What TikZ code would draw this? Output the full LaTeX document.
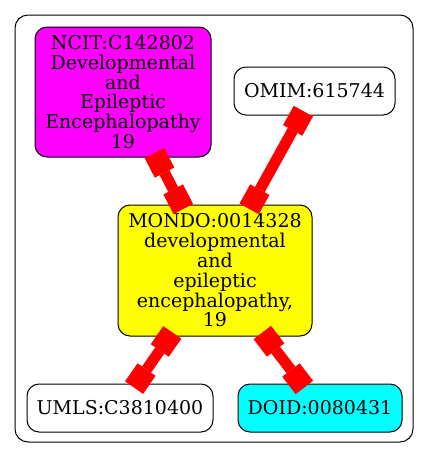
\documentclass[tikz,border=0pt]{standalone}
\usepackage{fontspec}
\setmainfont{DejaVu Serif}
\usetikzlibrary{arrows.meta}
\definecolor{ncitfill}{RGB}{255,0,255}
\definecolor{mondofill}{RGB}{255,255,0}
\definecolor{doidfill}{RGB}{0,255,255}
\definecolor{linkred}{RGB}{255,0,0}
\tikzset{
  termbox/.style={draw=black, line width=1pt, rounded corners=12pt, align=center,
    inner sep=0pt, font=\fontsize{19}{19.8}\selectfont},
  boxtip/.tip={Square[length=22pt,width=22pt,line width=0pt]},
  link/.style={draw=linkred, line width=11pt, {boxtip}-{boxtip},
    shorten <=-5pt, shorten >=-5pt}
}
\begin{document}
\begin{tikzpicture}[x=1pt,y=-1pt]
\useasboundingbox (0,0) rectangle (429,459);
\draw[line width=1pt, rounded corners=13pt] (15,15) rectangle (413,442);
\node[termbox, fill=ncitfill, minimum width=176pt, minimum height=130pt] (ncit) at (123,92)
  {NCIT:C142802\\Developmental\\and\\Epileptic\\Encephalopathy\\19};
\node[termbox, fill=white, minimum width=161pt, minimum height=48pt] (omim) at (314.5,91)
  {OMIM:615744};
\node[termbox, fill=mondofill, minimum width=194pt, minimum height=131pt] (mondo) at (215,270.5)
  {MONDO:0014328\\developmental\\and\\epileptic\\encephalopathy,\\19};
\node[termbox, fill=white, minimum width=186pt, minimum height=48pt] (umls) at (120,408)
  {UMLS:C3810400};
\node[termbox, fill=doidfill, minimum width=164pt, minimum height=48pt] (doid) at (320,408)
  {DOID:0080431};
\draw[link] (ncit) -- (mondo);
\draw[link] (omim) -- (mondo);
\draw[link] (mondo) -- (umls);
\draw[link] (mondo) -- (doid);
\end{tikzpicture}
\end{document}
